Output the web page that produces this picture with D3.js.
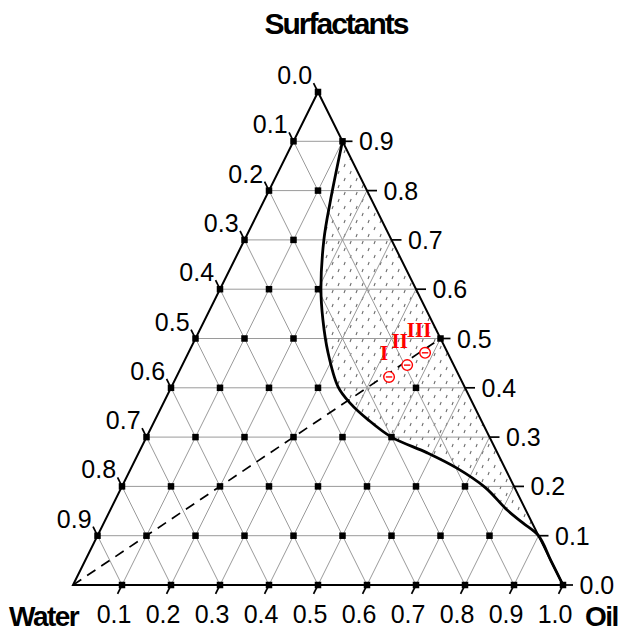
<!DOCTYPE html>
<html>
<head>
<meta charset="utf-8">
<script src="https://cdn.jsdelivr.net/npm/d3@7"></script>
<style>
  html, body { margin: 0; padding: 0; background: #fff; }
  svg { display: block; }
</style>
</head>
<body>
<script>
// ---- data -------------------------------------------------------------
// grid levels (fraction) for all three components
const gridLevels = [0.1, 0.2, 0.3, 0.4, 0.5, 0.6, 0.7, 0.8, 0.9];

// axis tick labels
const oilTickValues = [0.1, 0.2, 0.3, 0.4, 0.5, 0.6, 0.7, 0.8, 0.9, 1.0];
const waterTickValues = [0.0, 0.1, 0.2, 0.3, 0.4, 0.5, 0.6, 0.7, 0.8, 0.9];
const surfTickValues = [0.9, 0.8, 0.7, 0.6, 0.5, 0.4, 0.3, 0.2, 0.1, 0.0];

// phase boundary: (oil fraction, surfactant fraction)
const boundaryOil  = [0.100, 0.137, 0.162, 0.206, 0.241, 0.285, 0.340, 0.381, 0.435, 0.500, 0.589, 0.665, 0.742, 0.810, 0.855, 0.900, 0.950, 1.000];
const boundarySurf = [0.900, 0.775, 0.700, 0.600, 0.538, 0.471, 0.402, 0.369, 0.335, 0.300, 0.268, 0.237, 0.198, 0.152, 0.126, 0.100, 0.050, 0.000];

// examined compositions (black squares): oil and surfactant fractions
const sampleOil = [
  0.1, 0.2, 0.3, 0.4, 0.5, 0.6, 0.7, 0.8, 0.9, 1.0,
  0.0, 0.1, 0.2, 0.3, 0.4, 0.5, 0.6, 0.7, 0.8,
  0.0, 0.1, 0.2, 0.3, 0.4, 0.5, 0.6, 0.7,
  0.0, 0.1, 0.2, 0.3, 0.4, 0.5,
  0.0, 0.1, 0.2, 0.3, 0.5,
  0.0, 0.1, 0.2, 0.5,
  0.0, 0.1, 0.2,
  0.0, 0.1,
  0.0, 0.1,
  0.0, 0.1,
  0.0
];
const sampleSurf = [
  0.0, 0.0, 0.0, 0.0, 0.0, 0.0, 0.0, 0.0, 0.0, 0.0,
  0.1, 0.1, 0.1, 0.1, 0.1, 0.1, 0.1, 0.1, 0.1,
  0.2, 0.2, 0.2, 0.2, 0.2, 0.2, 0.2, 0.2,
  0.3, 0.3, 0.3, 0.3, 0.3, 0.3,
  0.4, 0.4, 0.4, 0.4, 0.4,
  0.5, 0.5, 0.5, 0.5,
  0.6, 0.6, 0.6,
  0.7, 0.7,
  0.8, 0.8,
  0.9, 0.9,
  1.0
];

// dilution path (oil : surfactant = 1 : 1) from the water corner
const dilutionOil  = [0.0, 0.5];
const dilutionSurf = [0.0, 0.5];

// formulations I, II, III
const formulationNames = ["I", "II", "III"];
const formulationOil   = [0.434, 0.459, 0.483];
const formulationSurf  = [0.422, 0.446, 0.471];

// ---- layout -----------------------------------------------------------
const W = 622, H = 633;
const svg = d3.select("body").append("svg").attr("width", W).attr("height", H);

// base position runs along the Water–Oil edge, height follows surfactant
const xBase = d3.scaleLinear().domain([0, 1]).range([73, 563]);
const yHeight = d3.scaleLinear().domain([0, 1]).range([585, 92]);
const P = (oil, surf) => [xBase(oil + surf / 2), yHeight(surf)];

const font = "'Liberation Sans', Arial, Helvetica, sans-serif";

// hatch pattern for the two-phase region
const defs = svg.append("defs");
const pat = defs.append("pattern")
  .attr("id", "dots").attr("patternUnits", "userSpaceOnUse")
  .attr("width", 12).attr("height", 14);
[[2, 3], [8, 10]].forEach(([px, py]) => {
  pat.append("line")
    .attr("x1", px).attr("y1", py + 3).attr("x2", px + 1.2).attr("y2", py)
    .attr("stroke", "#6a6a6a").attr("stroke-width", 1.1);
});

// shaded region between boundary and the Oil–Surfactant edge
const regionPts = boundaryOil.map((o, i) => [o, boundarySurf[i]])
  .filter(d => d[1] >= 0.1);
const regionPoly = regionPts.concat([[0.1, 0.9]]);
svg.append("path")
  .attr("d", d3.line().curve(d3.curveLinear)(regionPoly.map(d => P(d[0], d[1]))) + "Z")
  .attr("fill", "url(#dots)").attr("stroke", "none");

// ---- grid -------------------------------------------------------------
const grid = svg.append("g").attr("stroke", "#9a9a9a").attr("stroke-width", 1).attr("fill", "none");
gridLevels.forEach(v => {
  // constant surfactant
  grid.append("line").attr("x1", P(0, v)[0]).attr("y1", P(0, v)[1])
    .attr("x2", P(1 - v, v)[0]).attr("y2", P(1 - v, v)[1]);
  // constant oil
  grid.append("line").attr("x1", P(v, 0)[0]).attr("y1", P(v, 0)[1])
    .attr("x2", P(v, 1 - v)[0]).attr("y2", P(v, 1 - v)[1]);
  // constant water
  grid.append("line").attr("x1", P(1 - v, 0)[0]).attr("y1", P(1 - v, 0)[1])
    .attr("x2", P(0, 1 - v)[0]).attr("y2", P(0, 1 - v)[1]);
});

// ---- triangle frame ---------------------------------------------------
const corners = [P(0, 0), P(1, 0), P(0, 1)];
svg.append("path").attr("d", d3.line()(corners) + "Z")
  .attr("fill", "none").attr("stroke", "#000").attr("stroke-width", 2);

// ---- ticks ------------------------------------------------------------
const edgeLen = Math.hypot(xBase(0.5) - xBase(0), yHeight(0) - yHeight(1));
const ux = (xBase(0.5) - xBase(0)) / edgeLen, uy = (yHeight(0) - yHeight(1)) / edgeLen;
const tickLen = 10;
const ticks = svg.append("g").attr("stroke", "#000").attr("stroke-width", 1.7);
const labels = svg.append("g").attr("font-family", font).attr("font-size", 25).attr("fill", "#000");

// bottom (oil)
oilTickValues.forEach(v => {
  const [x, y] = P(v, 0);
  const ex = x - ux * tickLen, ey = y + uy * tickLen;
  ticks.append("line").attr("x1", x).attr("y1", y).attr("x2", ex).attr("y2", ey);
  labels.append("text").attr("x", ex - 3.5).attr("y", ey + 29)
    .attr("text-anchor", "middle").text(v.toFixed(1));
});
// left (water)
waterTickValues.forEach(v => {
  const [x, y] = P(0, 1 - v);
  const ex = x - ux * tickLen, ey = y - uy * tickLen;
  ticks.append("line").attr("x1", x).attr("y1", y).attr("x2", ex).attr("y2", ey);
  labels.append("text").attr("x", ex - 1.5).attr("y", ey + 1)
    .attr("text-anchor", "end").text(v.toFixed(1));
});
// right (surfactant)
surfTickValues.forEach(v => {
  const [x, y] = P(1 - v, v);
  const ex = x + tickLen;
  ticks.append("line").attr("x1", x).attr("y1", y).attr("x2", ex).attr("y2", y);
  labels.append("text").attr("x", ex + 6.5).attr("y", y + 9)
    .attr("text-anchor", "start").text(v.toFixed(1));
});

// ---- dilution line ----------------------------------------------------
svg.append("path")
  .attr("d", d3.line()(dilutionOil.map((o, i) => P(o, dilutionSurf[i]))))
  .attr("fill", "none").attr("stroke", "#000").attr("stroke-width", 1.7)
  .attr("stroke-dasharray", "10,7");

// ---- phase boundary ---------------------------------------------------
svg.append("path")
  .attr("d", d3.line().curve(d3.curveCatmullRom.alpha(0.5))(boundaryOil.map((o, i) => P(o, boundarySurf[i]))))
  .attr("fill", "none").attr("stroke", "#000").attr("stroke-width", 2.8);

// ---- sample squares ---------------------------------------------------
const sq = 6.5;
svg.append("g").selectAll("rect")
  .data(sampleOil.map((o, i) => P(o, sampleSurf[i])))
  .join("rect")
  .attr("x", d => d[0] - sq / 2).attr("y", d => d[1] - sq / 2)
  .attr("width", sq).attr("height", sq).attr("fill", "#000");

// ---- formulations -----------------------------------------------------
const form = svg.append("g");
formulationOil.forEach((o, i) => {
  const [x, y] = P(o, formulationSurf[i]);
  form.append("circle").attr("cx", x).attr("cy", y).attr("r", 5.3)
    .attr("fill", "#fff").attr("stroke", "#f00").attr("stroke-width", 1.4);
  form.append("line").attr("x1", x - 3.2).attr("x2", x + 3.2).attr("y1", y).attr("y2", y)
    .attr("stroke", "#f00").attr("stroke-width", 1.4);
});
const formLabelDx = [-5, -7.5, -6];
const formLabelDy = [-17, -17, -16];
formulationOil.forEach((o, i) => {
  const [x, y] = P(o, formulationSurf[i]);
  form.append("text").attr("x", x + formLabelDx[i]).attr("y", y + formLabelDy[i])
    .attr("text-anchor", "middle")
    .attr("font-family", "'Liberation Serif', 'Times New Roman', serif")
    .attr("font-weight", "bold").attr("font-size", 21).attr("fill", "#f00")
    .text(formulationNames[i]);
});

// ---- component names --------------------------------------------------
const names = svg.append("g").attr("font-family", font).attr("font-weight", "bold")
  .attr("fill", "#000");
names.append("text").attr("x", 336).attr("y", 34).attr("text-anchor", "middle")
  .attr("font-size", 30).attr("letter-spacing", -2).text("Surfactants");
names.append("text").attr("x", 9).attr("y", 626).attr("text-anchor", "start")
  .attr("font-size", 28).attr("letter-spacing", -1.5).text("Water");
names.append("text").attr("x", 585).attr("y", 626).attr("text-anchor", "start")
  .attr("font-size", 28).attr("letter-spacing", -1.5).text("Oil");
</script>
</body>
</html>
